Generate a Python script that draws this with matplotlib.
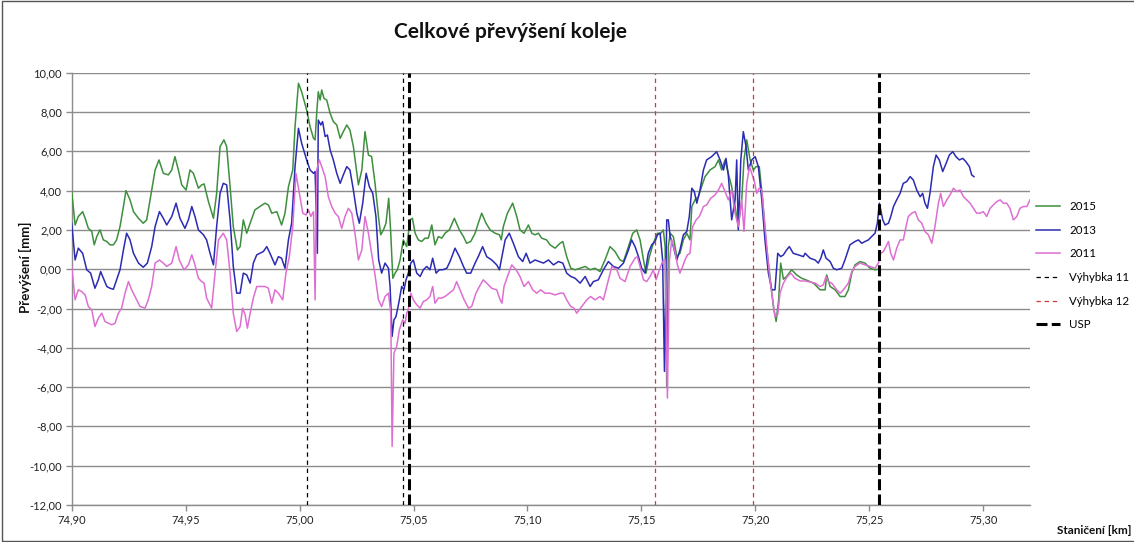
import matplotlib
matplotlib.use("Agg")
import matplotlib.pyplot as plt
from matplotlib.patches import Rectangle
from matplotlib.ticker import FuncFormatter
import numpy as np

plt.rcParams['font.family'] = ['Lato', 'DejaVu Sans']

# ---------------- data ----------------
title = "Celkové převýšení koleje"
ylabel = "Převýšení [mm]"
xlabel = "Staničení [km]"
series_names = ["2015", "2013", "2011"]

km_2015 = [
    74.9000, 74.9015, 74.9029, 74.9048, 74.9059, 74.9073, 74.9088, 74.9099, 74.9110, 74.9124,
    74.9139, 74.9154, 74.9168, 74.9183, 74.9197, 74.9212, 74.9227, 74.9238, 74.9256, 74.9271,
    74.9293, 74.9314, 74.9329, 74.9344, 74.9366, 74.9383, 74.9402, 74.9424, 74.9439, 74.9453,
    74.9468, 74.9483, 74.9502, 74.9519, 74.9534, 74.9556, 74.9570, 74.9581, 74.9600, 74.9622,
    74.9636, 74.9651, 74.9668, 74.9680, 74.9695, 74.9709, 74.9727, 74.9739, 74.9753, 74.9768,
    74.9783, 74.9804, 74.9826, 74.9848, 74.9863, 74.9878, 74.9900, 74.9921, 74.9936, 74.9951,
    74.9970, 74.9980, 74.9995, 75.0009,
    75.0031, 75.0046, 75.0061, 75.0068, 75.0075, 75.0082, 75.0090, 75.0097, 75.0107, 75.0119,
    75.0134, 75.0148, 75.0163, 75.0178, 75.0192, 75.0207, 75.0221, 75.0236, 75.0258, 75.0273,
    75.0287, 75.0302, 75.0316, 75.0331, 75.0346, 75.0356, 75.0368, 75.0379, 75.0391, 75.0400,
    75.0409, 75.0419, 75.0429, 75.0441, 75.0455, 75.0470, 75.0485, 75.0495, 75.0507, 75.0521,
    75.0536, 75.0550, 75.0565, 75.0580, 75.0594, 75.0609, 75.0624, 75.0638, 75.0657, 75.0679,
    75.0701, 75.0719, 75.0733, 75.0751, 75.0770, 75.0784, 75.0799, 75.0818, 75.0836, 75.0858,
    75.0877, 75.0885, 75.0894, 75.0912, 75.0935, 75.0953, 75.0967, 75.0985, 75.1004, 75.1019,
    75.1033, 75.1048, 75.1062, 75.1084, 75.1099, 75.1121, 75.1143,
    75.1155, 75.1172, 75.1190, 75.1209, 75.1231, 75.1253, 75.1275, 75.1296, 75.1318, 75.1340,
    75.1362, 75.1384, 75.1406, 75.1421, 75.1443, 75.1462, 75.1479, 75.1494, 75.1509, 75.1520,
    75.1535, 75.1552, 75.1570, 75.1585, 75.1596, 75.1604, 75.1611, 75.1618, 75.1626, 75.1640,
    75.1655, 75.1669, 75.1684, 75.1699, 75.1713, 75.1721, 75.1735, 75.1750, 75.1764, 75.1779,
    75.1801, 75.1823, 75.1838, 75.1852, 75.1867, 75.1881, 75.1896, 75.1911, 75.1925, 75.1940,
    75.1950, 75.1962, 75.1977, 75.1991, 75.2003, 75.2017, 75.2032, 75.2047, 75.2064, 75.2079,
    75.2091, 75.2102, 75.2111, 75.2123, 75.2137, 75.2159, 75.2181, 75.2203,
    75.2225, 75.2255, 75.2284, 75.2306, 75.2313, 75.2328, 75.2350, 75.2372, 75.2393, 75.2408,
    75.2423, 75.2437, 75.2459, 75.2481, 75.2503, 75.2525, 75.2540,
]
mm_2015 = [
    3.95, 2.25, 2.68, 2.93, 2.59, 2.08, 1.92, 1.24, 1.66, 2.00,
    1.49, 1.41, 1.24, 1.24, 1.49, 2.17, 3.19, 4.00, 3.53, 2.93,
    2.59, 2.34, 2.51, 3.53, 5.05, 5.56, 4.88, 4.80, 5.05, 5.73,
    5.05, 4.29, 4.03, 5.05, 4.88, 4.12, 4.29, 4.34, 3.44, 2.59,
    3.86, 6.24, 6.58, 6.24, 4.20, 2.17, 0.98, 1.15, 2.51, 1.83,
    2.34, 3.02, 3.19, 3.36, 3.27, 2.85, 2.93, 2.25, 2.85, 4.20,
    5.05, 7.25, 9.46, 9.03,
    8.10, 7.25, 6.66, 6.58, 7.93, 9.03, 8.61, 9.12, 8.69, 8.61,
    7.93, 7.51, 7.34, 6.66, 7.00, 7.34, 7.08, 6.24, 4.29, 5.05,
    7.00, 5.81, 5.73, 4.37, 2.68, 1.75, 2.00, 2.34, 3.61, 1.83,
    -0.46, -0.20, -0.03, 0.47, 1.49, 1.15, 2.51, 2.59, 1.83, 1.49,
    1.41, 1.58, 1.58, 2.25, 1.24, 1.66, 1.58, 1.83, 2.00, 2.59,
    2.00, 1.66, 1.32, 1.41, 1.83, 2.34, 2.85, 2.34, 2.00, 1.83,
    1.75, 1.49, 2.17, 2.85, 3.36, 2.68, 2.00, 1.83, 2.25, 1.83,
    1.75, 1.83, 1.58, 1.49, 1.24, 1.07, 1.32,
    1.41, 0.64, 0.05, -0.03, 0.05, 0.14, -0.03, 0.05, -0.12, 0.47,
    1.15, 0.90, 0.47, 0.39, 1.15, 1.83, 2.00, 1.49, 0.47, -0.20,
    0.64, 1.32, 1.83, 1.83, 2.00, 1.15, -5.97, 1.15, 1.83, 1.66,
    0.64, 0.81, 1.49, 1.83, 1.49, 3.19, 3.53, 3.69, 4.20, 4.71,
    5.05, 5.22, 5.56, 5.05, 5.56, 4.88, 4.20, 3.19, 2.17, 3.53,
    5.56, 6.58, 5.56, 5.05, 5.22, 5.22, 3.53, 1.32, -0.37, -1.90,
    -2.66, -1.56, 0.31, -0.51, -0.37, -0.03, -0.29, -0.46,
    -0.56, -0.71, -1.05, -1.05, -0.29, -0.88, -1.05, -1.39, -1.39, -1.05,
    -0.20, 0.22, 0.39, 0.31, 0.05, -0.03, 0.00,
]

km_2013 = [
    74.9000, 74.9015, 74.9029, 74.9048, 74.9066, 74.9083, 74.9102, 74.9117, 74.9127, 74.9142,
    74.9154, 74.9168, 74.9183, 74.9197, 74.9212, 74.9227, 74.9241, 74.9256, 74.9271, 74.9293,
    74.9314, 74.9332, 74.9351, 74.9366, 74.9385, 74.9402, 74.9417, 74.9439, 74.9458, 74.9475,
    74.9497, 74.9512, 74.9527, 74.9541, 74.9556, 74.9578, 74.9592, 74.9607, 74.9622, 74.9636,
    74.9651, 74.9665, 74.9680, 74.9695, 74.9709, 74.9724, 74.9739, 74.9753, 74.9768, 74.9783,
    74.9797, 74.9812, 74.9826, 74.9841, 74.9856, 74.9870, 74.9892, 74.9907, 74.9921, 74.9936,
    74.9951, 74.9965, 74.9980, 74.9995, 75.0009,
    75.0031, 75.0046, 75.0061, 75.0068, 75.0078, 75.0082, 75.0093, 75.0101, 75.0112, 75.0122,
    75.0134, 75.0148, 75.0163, 75.0178, 75.0192, 75.0207, 75.0221, 75.0236, 75.0251, 75.0262,
    75.0277, 75.0292, 75.0306, 75.0321, 75.0335, 75.0347, 75.0360, 75.0375, 75.0390, 75.0397,
    75.0406, 75.0414, 75.0423, 75.0435, 75.0448, 75.0458, 75.0467, 75.0477, 75.0488, 75.0499,
    75.0514, 75.0529, 75.0543, 75.0558, 75.0572, 75.0584, 75.0599, 75.0613, 75.0628, 75.0646,
    75.0660, 75.0682, 75.0701, 75.0719, 75.0733, 75.0751, 75.0770, 75.0784, 75.0803, 75.0821,
    75.0843, 75.0865, 75.0877, 75.0885, 75.0902, 75.0920, 75.0938, 75.0960, 75.0979, 75.0994,
    75.1011, 75.1033, 75.1052, 75.1070, 75.1092, 75.1114, 75.1136,
    75.1155, 75.1172, 75.1190, 75.1209, 75.1231, 75.1253, 75.1275, 75.1289, 75.1311, 75.1333,
    75.1355, 75.1377, 75.1399, 75.1421, 75.1443, 75.1457, 75.1472, 75.1487, 75.1501, 75.1516,
    75.1530, 75.1545, 75.1560, 75.1570, 75.1582, 75.1593, 75.1601, 75.1611, 75.1618, 75.1626,
    75.1640, 75.1655, 75.1669, 75.1684, 75.1699, 75.1710, 75.1721, 75.1732, 75.1743, 75.1757,
    75.1772, 75.1786, 75.1808, 75.1830, 75.1845, 75.1860, 75.1871, 75.1881, 75.1896, 75.1911,
    75.1918, 75.1925, 75.1936, 75.1947, 75.1959, 75.1969, 75.1984, 75.1999, 75.2013, 75.2028,
    75.2042, 75.2057, 75.2072, 75.2086, 75.2098, 75.2111, 75.2123, 75.2137, 75.2149, 75.2166,
    75.2188, 75.2211,
    75.2218, 75.2240, 75.2262, 75.2276, 75.2287, 75.2298, 75.2310, 75.2328, 75.2342, 75.2357,
    75.2379, 75.2393, 75.2415, 75.2437, 75.2452, 75.2467, 75.2481, 75.2496, 75.2510, 75.2525,
    75.2535, 75.2544, 75.2550, 75.2559, 75.2569, 75.2584, 75.2594, 75.2606, 75.2620, 75.2635,
    75.2649, 75.2664, 75.2679, 75.2693, 75.2708, 75.2723, 75.2734, 75.2744, 75.2755, 75.2766,
    75.2781, 75.2793, 75.2807, 75.2822, 75.2837, 75.2851, 75.2866, 75.2880, 75.2895, 75.2910,
    75.2924, 75.2939, 75.2949, 75.2959,
]
mm_2013 = [
    2.34, 0.47, 1.07, 0.81, -0.03, -0.20, -0.97, -0.54, -0.12, -0.54,
    -0.88, -0.97, -1.02, -0.54, -0.03, 0.98, 1.83, 1.49, 0.81, 0.31,
    0.10, 0.31, 1.15, 2.17, 2.93, 2.59, 2.25, 2.68, 3.36, 2.59,
    2.08, 2.51, 3.19, 2.68, 2.00, 1.75, 1.49, 0.81, 0.22, 2.17,
    3.86, 4.37, 4.29, 2.51, 0.14, -1.22, -1.22, -0.20, -0.29, -0.71,
    0.31, 0.73, 0.81, 0.90, 1.15, 0.81, 0.22, 0.64, 0.56, 0.05,
    1.49, 2.34, 5.22, 7.17, 6.41,
    5.56, 5.05, 4.88, 4.97, 0.81, 7.59, 7.34, 7.51, 6.75, 6.83,
    6.07, 5.56, 4.88, 4.37, 4.80, 5.22, 5.05, 4.03, 2.85, 2.34,
    3.36, 4.88, 4.20, 3.86, 2.68, 0.47, -0.20, 0.31, 0.05, -0.88,
    -3.42, -2.58, -2.41, -1.73, -0.88, -1.05, -0.54, -0.20, 0.31, 0.47,
    -0.20, -0.37, -0.03, 0.14, -0.03, 0.56, -0.20, -0.03, -0.03, 0.05,
    0.39, 1.07, 0.64, 0.14, -0.20, -0.20, 0.31, 0.64, 1.15, 0.64,
    0.47, 0.22, -0.03, 0.47, 1.49, 1.83, 1.32, 0.64, 0.39, 0.81,
    0.31, 0.47, 0.39, 0.31, 0.47, 0.22, 0.39,
    0.31, -0.20, -0.37, -0.46, -0.71, -0.37, -0.88, -0.63, -0.54, -0.03,
    0.39, 0.14, 0.05, 0.31, 0.98, 1.49, 1.15, 0.64, 0.05, -0.20,
    0.81, 1.24, 1.41, 1.75, 1.83, 0.47, -5.20, 2.51, 2.51, 1.66,
    1.15, 0.47, 0.98, 1.75, 1.92, 2.68, 4.12, 3.95, 3.36, 4.03,
    5.05, 5.56, 5.73, 5.98, 5.56, 5.05, 5.64, 4.80, 2.51, 3.53,
    5.56, 2.00, 5.56, 7.00, 6.24, 5.05, 5.56, 5.73, 5.22, 3.53,
    1.49, -0.20, -1.05, -1.05, 0.81, 0.64, 0.73, 0.98, 1.15, 0.81,
    0.73, 0.64,
    0.81, 0.56, 0.47, 0.31, 0.56, 0.98, 0.56, 0.39, 0.05, -0.03,
    0.05, 0.47, 1.24, 1.41, 1.49, 1.32, 1.41, 1.49, 1.66, 1.83,
    2.34, 3.36, 3.02, 2.51, 2.25, 2.34, 2.68, 3.19, 3.53, 3.86,
    4.37, 4.46, 4.71, 4.54, 4.03, 3.69, 3.86, 3.36, 3.10, 3.86,
    5.22, 5.81, 5.56, 4.97, 5.39, 5.81, 5.98, 5.73, 5.56, 5.64,
    5.47, 5.22, 4.80, 4.71,
]

km_2011 = [
    74.9000, 74.9015, 74.9029, 74.9044, 74.9059, 74.9073, 74.9088, 74.9102, 74.9117, 74.9132,
    74.9146, 74.9161, 74.9176, 74.9190, 74.9205, 74.9219, 74.9234, 74.9249, 74.9263, 74.9278,
    74.9300, 74.9322, 74.9336, 74.9351, 74.9366, 74.9385, 74.9402, 74.9417, 74.9439, 74.9458,
    74.9472, 74.9493, 74.9512, 74.9527, 74.9541, 74.9556, 74.9570, 74.9581, 74.9592, 74.9614,
    74.9629, 74.9644, 74.9665, 74.9680, 74.9695, 74.9709, 74.9724, 74.9739, 74.9750, 74.9761,
    74.9771, 74.9783, 74.9797, 74.9812, 74.9826, 74.9848, 74.9863, 74.9878, 74.9892, 74.9907,
    74.9926, 74.9940, 74.9955, 74.9970, 74.9984, 74.9999, 75.0014,
    75.0028, 75.0039, 75.0049, 75.0061, 75.0068, 75.0075, 75.0087, 75.0097, 75.0112, 75.0126,
    75.0141, 75.0156, 75.0170, 75.0185, 75.0199, 75.0214, 75.0229, 75.0243, 75.0258, 75.0273,
    75.0287, 75.0302, 75.0316, 75.0331, 75.0346, 75.0360, 75.0375, 75.0390, 75.0400, 75.0406,
    75.0414, 75.0426, 75.0438, 75.0452, 75.0463, 75.0470, 75.0477, 75.0488, 75.0499, 75.0514,
    75.0529, 75.0543, 75.0558, 75.0572, 75.0584, 75.0594, 75.0609, 75.0624, 75.0638, 75.0657,
    75.0675, 75.0689, 75.0704, 75.0722, 75.0741, 75.0755, 75.0774, 75.0789, 75.0806, 75.0821,
    75.0843, 75.0865, 75.0880, 75.0888, 75.0897, 75.0912, 75.0931, 75.0950, 75.0967, 75.0985,
    75.1004, 75.1023, 75.1040, 75.1058, 75.1077, 75.1099, 75.1121, 75.1143,
    75.1158, 75.1172, 75.1190, 75.1204, 75.1216, 75.1238, 75.1260, 75.1277, 75.1296, 75.1318,
    75.1333, 75.1348, 75.1370, 75.1392, 75.1406, 75.1428, 75.1450, 75.1472, 75.1482, 75.1494,
    75.1509, 75.1523, 75.1538, 75.1552, 75.1564, 75.1579, 75.1593, 75.1604, 75.1614, 75.1623,
    75.1633, 75.1647, 75.1658, 75.1669, 75.1681, 75.1691, 75.1702, 75.1713, 75.1725, 75.1740,
    75.1754, 75.1772, 75.1786, 75.1804, 75.1823, 75.1838, 75.1852, 75.1867, 75.1881, 75.1896,
    75.1911, 75.1925, 75.1940, 75.1950, 75.1962, 75.1974, 75.1984, 75.1994, 75.2006, 75.2017,
    75.2028, 75.2038, 75.2050, 75.2064, 75.2076, 75.2086, 75.2098, 75.2108, 75.2123, 75.2140,
    75.2155, 75.2174, 75.2196,
    75.2218, 75.2240, 75.2262, 75.2284, 75.2298, 75.2310, 75.2320, 75.2335, 75.2357, 75.2372,
    75.2386, 75.2408, 75.2423, 75.2437, 75.2459, 75.2481, 75.2503, 75.2525, 75.2540, 75.2550,
    75.2562, 75.2573, 75.2584, 75.2594, 75.2606, 75.2620, 75.2635, 75.2649, 75.2661, 75.2671,
    75.2686, 75.2701, 75.2715, 75.2730, 75.2744, 75.2759, 75.2774, 75.2788, 75.2803, 75.2813,
    75.2825, 75.2840, 75.2854, 75.2869, 75.2883, 75.2898, 75.2913, 75.2927, 75.2942, 75.2957,
    75.2971, 75.2986, 75.3000, 75.3015, 75.3030, 75.3044, 75.3059, 75.3074, 75.3088, 75.3103,
    75.3117, 75.3132, 75.3147, 75.3161, 75.3176, 75.3191, 75.3205,
]
mm_2011 = [
    0.14, -1.56, -1.05, -1.14, -1.31, -1.90, -2.07, -2.92, -2.49, -2.24,
    -2.66, -2.75, -2.83, -2.75, -2.24, -1.98, -1.22, -0.63, -1.05, -1.39,
    -1.90, -1.98, -1.56, -0.88, 0.31, 0.47, 0.31, 0.14, 0.31, 1.15,
    0.47, -0.03, 0.22, 0.73, 0.22, -0.46, -0.63, -0.71, -1.47, -1.98,
    -0.20, 1.49, 1.83, 1.49, -0.20, -2.24, -3.17, -2.92, -1.98, -2.32,
    -3.00, -2.24, -1.47, -0.88, -0.88, -0.88, -0.97, -1.73, -1.05, -1.22,
    -1.56, -0.20, 0.64, 2.17, 4.88, 3.86, 2.85,
    2.76, 3.02, 2.68, 2.93, -1.56, 5.05, 5.56, 5.22, 4.71, 3.69,
    3.19, 2.85, 2.68, 2.08, 2.68, 3.10, 2.85, 1.83, 0.47, 0.98,
    2.68, 1.83, 0.81, -0.29, -1.56, -1.90, -1.39, -1.22, -2.24, -9.02,
    -4.27, -3.93, -3.08, -2.58, -2.75, -2.24, -2.07, -1.22, -1.56, -1.81,
    -1.98, -1.64, -1.56, -1.39, -0.88, -1.73, -1.47, -1.47, -1.39, -1.22,
    -1.05, -0.63, -1.05, -1.56, -1.98, -1.90, -1.22, -0.88, -0.54, -0.71,
    -0.97, -1.05, -1.56, -1.73, -0.88, -0.37, 0.22, -0.03, -0.37, -0.88,
    -0.63, -1.05, -1.22, -1.05, -1.22, -1.22, -1.31, -1.22,
    -1.22, -1.56, -1.90, -1.98, -2.24, -1.90, -1.56, -1.39, -1.56, -1.39,
    -1.56, -0.88, 0.14, -0.03, -0.46, -0.63, 0.14, 0.56, 0.64, 0.14,
    -0.54, -0.63, -0.37, -0.03, -0.54, -0.03, 0.39, 0.47, -6.56, 0.47,
    1.49, 0.90, 0.22, -0.20, 0.14, 0.47, 0.73, 0.81, 2.17, 2.51,
    2.68, 3.19, 3.27, 3.61, 3.78, 4.03, 4.37, 3.95, 3.53, 4.03,
    2.85, 2.17, 3.53, 1.92, 4.37, 5.22, 4.88, 4.54, 3.86, 4.12,
    4.03, 2.68, 1.15, -0.54, -1.56, -2.41, -2.32, -1.22, -0.71, -0.37,
    -0.20, -0.46, -0.60,
    -0.60, -0.65, -0.71, -0.88, -0.80, -0.37, -0.63, -0.71, -1.05, -1.22,
    -1.05, -0.71, -0.12, 0.14, 0.31, 0.22, 0.14, 0.05, 0.31, 0.81,
    0.90, 1.15, 1.41, 0.81, 0.47, 1.07, 1.49, 1.49, 2.17, 2.68,
    2.85, 2.93, 2.51, 2.34, 1.92, 1.75, 1.32, 2.17, 3.36, 3.86,
    3.19, 3.53, 3.78, 4.12, 3.95, 4.03, 3.69, 3.53, 3.36, 3.10,
    2.85, 2.85, 2.93, 2.68, 3.10, 3.27, 3.44, 3.53, 3.36, 3.36,
    3.10, 2.51, 2.68, 3.10, 3.19, 3.19, 3.53,
]

vyhybka11_km = [75.0031, 75.0455]
vyhybka12_km = [75.1561, 75.1988]
usp_km = [75.0479, 75.2544]
vline_names = ["Výhybka 11", "Výhybka 12", "USP"]

x_ticks = [74.90, 74.95, 75.00, 75.05, 75.10, 75.15, 75.20, 75.25, 75.30]
y_ticks = [-12, -10, -8, -6, -4, -2, 0, 2, 4, 6, 8, 10]

# ---------------- figure ----------------
W, H = 1134, 542
fig = plt.figure(figsize=(W / 100, H / 100), dpi=100)
ax = fig.add_axes([71.7 / W, 1 - 505 / H, (1030 - 71.7) / W, (505 - 72.7) / H])

c2015, c2013, c2011 = "#3e8f3e", "#2b2bb3", "#de6fd2"
h1, = ax.plot(km_2015, mm_2015, color=c2015, lw=1.1, label=series_names[0], zorder=3)
h2, = ax.plot(km_2013, mm_2013, color=c2013, lw=1.1, label=series_names[1], zorder=3)
h3, = ax.plot(km_2011, mm_2011, color=c2011, lw=1.1, label=series_names[2], zorder=3)

vh = []
for i, xv in enumerate(vyhybka11_km):
    l = ax.axvline(xv, color="black", lw=0.9, ls=(0, (3.5, 3)), zorder=4)
    if i == 0:
        vh.append(l)
for i, xv in enumerate(vyhybka12_km):
    l = ax.axvline(xv, color="#cc3b3b", lw=0.9, ls=(0, (3.5, 3)), zorder=4)
    if i == 0:
        vh.append(l)
for i, xv in enumerate(usp_km):
    l = ax.axvline(xv, color="black", lw=2.2, ls=(0, (3.6, 1.4)), zorder=4)
    if i == 0:
        vh.append(l)

ax.set_xlim(74.90, 75.3205)
ax.set_ylim(-12, 10)
ax.set_xticks(x_ticks)
ax.set_yticks(y_ticks)
fmt = FuncFormatter(lambda v, p: f"{v:.2f}".replace(".", ","))
ax.xaxis.set_major_formatter(fmt)
ax.yaxis.set_major_formatter(fmt)

ax.yaxis.grid(True, color="#8c8c8c", lw=1.0)
ax.xaxis.grid(False)
ax.set_axisbelow(True)
for s in ["top", "right"]:
    ax.spines[s].set_visible(False)
for s in ["left", "bottom"]:
    ax.spines[s].set_color("#8c8c8c")
    ax.spines[s].set_linewidth(1.0)
ax.tick_params(axis="both", length=4, width=1, color="#8c8c8c",
               labelsize=8, labelcolor="#222222", pad=3)

fig.text(25 / W, 1 - 267 / H, ylabel, rotation=90, ha="center", va="center",
         fontsize=9.5, fontweight="bold", color="#111111")
fig.text(510 / W, 1 - 32 / H, title, ha="center", va="center",
         fontsize=15, fontweight="bold", color="#111111")
fig.text(1094 / W, 1 - 531 / H, xlabel, ha="center", va="center",
         fontsize=8.5, fontweight="bold", color="#111111")

handles = [h1, h2, h3] + vh
labels = series_names + vline_names
fig.legend(handles, labels, loc="upper left",
           bbox_to_anchor=(1036 / W, 1 - 201 / H), frameon=False,
           fontsize=8.3, handlelength=2.1, handletextpad=0.8,
           labelspacing=1.1, borderpad=0, borderaxespad=0)

fig.add_artist(Rectangle((0.0015, 0.002), 1.2, 0.9955, transform=fig.transFigure,
                         fill=False, edgecolor="#555555", lw=1.0))

fig.savefig("out.png", dpi=100)
